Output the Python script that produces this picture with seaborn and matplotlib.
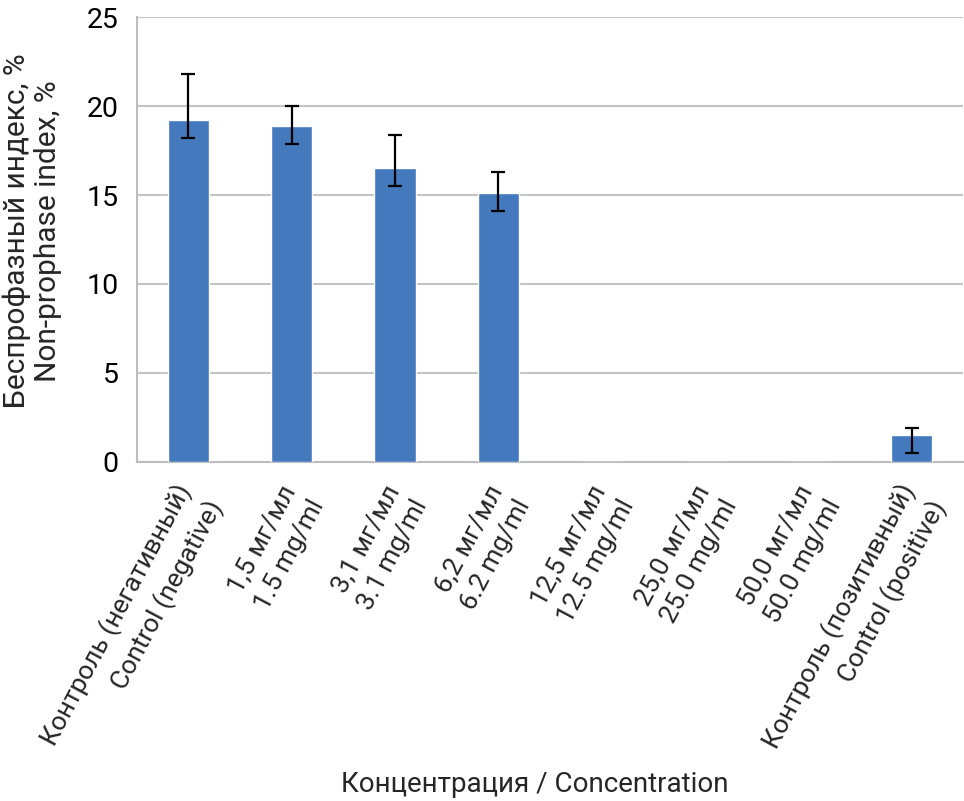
import numpy as np
import pandas as pd
import matplotlib
matplotlib.use("Agg")
import matplotlib.pyplot as plt
import matplotlib.transforms as mtransforms
import seaborn as sns
from matplotlib import font_manager

categories = [
    "Контроль (негативный)\nControl (negative)",
    "1,5 мг/мл\n1.5 mg/ml",
    "3,1 мг/мл\n3.1 mg/ml",
    "6,2 мг/мл\n6.2 mg/ml",
    "12,5 мг/мл\n12.5 mg/ml",
    "25,0 мг/мл\n25.0 mg/ml",
    "50,0 мг/мл\n50.0 mg/ml",
    "Контроль (позитивный)\nControl (positive)",
]
values = [19.2, 18.9, 16.5, 15.1, 0.0, 0.0, 0.0, 1.5]
err_lower = [18.2, 17.9, 15.5, 14.1, np.nan, np.nan, np.nan, 0.5]
err_upper = [21.8, 20.0, 18.4, 16.3, np.nan, np.nan, np.nan, 1.9]
y_ticks = [0, 5, 10, 15, 20, 25]
y_label = "Беспрофазный индекс, %\nNon-prophase index, %"
x_label = "Концентрация / Concentration"

sns.set_theme(style="white")
names = {f.name for f in font_manager.fontManager.ttflist}
fam = "Roboto" if "Roboto" in names else "DejaVu Sans"
plt.rcParams["font.family"] = [fam, "DejaVu Sans"]

df = pd.DataFrame({"cat": categories, "val": values})

fig = plt.figure(figsize=(9.64, 8.01), dpi=100)
ax = fig.add_axes([0.1418, 0.4236, 0.8575, 0.5548])

sns.barplot(data=df, x="cat", y="val", color="#4479BE", width=0.4,
            saturation=1, ax=ax, zorder=3)

xpos = np.arange(len(categories))
vals = np.array(values)
lo = vals - np.array(err_lower)
hi = np.array(err_upper) - vals
ax.errorbar(xpos, vals, yerr=[lo, hi], fmt="none", ecolor="black",
            elinewidth=1.6, capsize=5, capthick=1.6, zorder=4)

ax.set_xlim(-0.5, len(categories) - 0.5)
ax.set_ylim(0, 25)
ax.set_yticks(y_ticks)
ax.yaxis.grid(True, color="#c4c4c4", linewidth=1.5, zorder=0)
ax.set_axisbelow(True)

for s in ["top", "right"]:
    ax.spines[s].set_visible(False)
for s in ["left", "bottom"]:
    ax.spines[s].set_color("#bdbdbd")
    ax.spines[s].set_linewidth(1.5)

ax.tick_params(axis="y", length=0, pad=13, labelsize=20.5, colors="black")
ax.set_yticklabels([str(t) for t in y_ticks])
ax.tick_params(axis="x", which="major", length=0, pad=0)
ax.set_xticks(np.arange(-0.5, len(categories), 1), minor=True)
ax.tick_params(axis="x", which="minor", length=7, width=1.5, color="#bdbdbd")
ax.set_xticks(xpos)
ax.set_xticklabels(categories, rotation=62, ha="right",
                   rotation_mode="anchor", fontsize=19, multialignment="right",
                   linespacing=1.4)
offset = mtransforms.ScaledTranslation(12.5 / 100, -32.5 / 100, fig.dpi_scale_trans)
for lab in ax.get_xticklabels():
    lab.set_va("center")
    lab.set_transform(lab.get_transform() + offset)
ax.set_xlabel("")
ax.set_ylabel(y_label, fontsize=21.5, linespacing=1.15)
ax.yaxis.set_label_coords(-0.090, 0.519)

fig.text(535 / 964, 1 - 792 / 801, x_label, ha="center", va="baseline", fontsize=20)

fig.savefig("out.png", dpi=100)
